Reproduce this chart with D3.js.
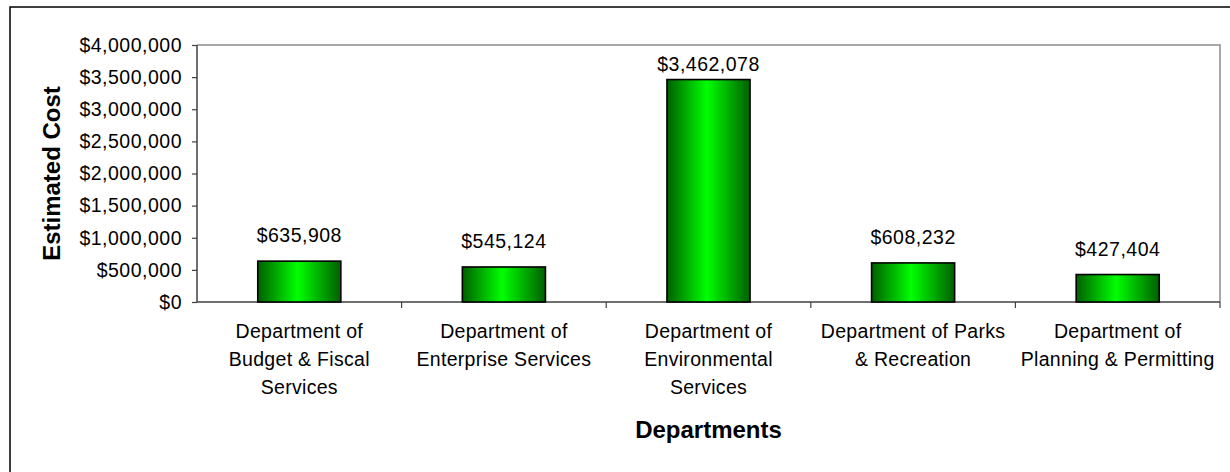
<!DOCTYPE html>
<html>
<head>
<meta charset="utf-8">
<script src="https://cdn.jsdelivr.net/npm/d3@7"></script>
<style>
  html, body { margin: 0; padding: 0; background: #fff; }
  svg { display: block; font-family: Arial, "Liberation Sans", sans-serif; }
</style>
</head>
<body>
<svg id="chart" width="1230" height="472"></svg>
<script>
// Estimated cost per department
const departments = [
  ["Department of", "Budget & Fiscal", "Services"],
  ["Department of", "Enterprise Services"],
  ["Department of", "Environmental", "Services"],
  ["Department of Parks", "& Recreation"],
  ["Department of", "Planning & Permitting"]
];
const costs = [635908, 545124, 3462078, 608232, 427404];
const yTicks = [0, 500000, 1000000, 1500000, 2000000, 2500000, 3000000, 3500000, 4000000];
const yTitle = "Estimated Cost";
const xTitle = "Departments";

const svg = d3.select("#chart");
const plot = { left: 197, right: 1220, top: 45, bottom: 302 };

const keys = departments.map((d, i) => i);
const x = d3.scaleBand()
  .domain(keys)
  .range([plot.left, plot.right])
  .paddingInner(0.594)
  .paddingOuter(0.297);
const y = d3.scaleLinear().domain([0, 4000000]).range([plot.bottom, plot.top]);
const money = v => "$" + d3.format(",")(v);

// outer chart frame
svg.append("rect")
  .attr("x", 10).attr("y", 7).attr("width", 1240).attr("height", 500)
  .attr("fill", "#fff").attr("stroke", "#000").attr("stroke-width", 1.5);

// plot area frame (top and right edges)
svg.append("path")
  .attr("d", `M${plot.left},${plot.top}H${plot.right}V${plot.bottom}`)
  .attr("fill", "none").attr("stroke", "#8c8c8c").attr("stroke-width", 1.5);

// bar gradient
const defs = svg.append("defs");
const grad = defs.append("linearGradient").attr("id", "barFill")
  .attr("x1", "0%").attr("x2", "100%").attr("y1", "0%").attr("y2", "0%");
grad.append("stop").attr("offset", "0%").attr("stop-color", "#005f00");
grad.append("stop").attr("offset", "48%").attr("stop-color", "#00ff00");
grad.append("stop").attr("offset", "100%").attr("stop-color", "#005f00");

// y axis
const yAxis = svg.append("g")
  .attr("transform", `translate(${plot.left},0)`)
  .call(d3.axisLeft(y).tickValues(yTicks).tickFormat(money).tickSize(5).tickPadding(10));
yAxis.attr("font-family", null).attr("font-size", null);
yAxis.select(".domain").attr("stroke", "#404040").attr("stroke-width", 1.5)
  .attr("d", `M0,${plot.top}V${plot.bottom}`);
yAxis.selectAll(".tick line").attr("stroke", "#404040").attr("stroke-width", 1.2);
yAxis.selectAll(".tick text")
  .attr("fill", "#000")
  .style("font-size", "19.5px")
  .style("letter-spacing", "0.5px");

// x axis: line plus tick marks at category boundaries
const step = x.step();
const bounds = keys.map(i => plot.left + step * (i + 1));
svg.append("line")
  .attr("x1", plot.left).attr("x2", plot.right)
  .attr("y1", plot.bottom).attr("y2", plot.bottom)
  .attr("stroke", "#404040").attr("stroke-width", 1.5);
svg.append("g").selectAll("line").data(bounds).join("line")
  .attr("x1", d => d).attr("x2", d => d)
  .attr("y1", plot.bottom).attr("y2", plot.bottom + 6)
  .attr("stroke", "#404040").attr("stroke-width", 1.2);

// bars
svg.append("g").selectAll("rect").data(costs).join("rect")
  .attr("x", (d, i) => x(i))
  .attr("y", d => y(d))
  .attr("width", x.bandwidth())
  .attr("height", d => y(0) - y(d))
  .attr("fill", "url(#barFill)")
  .attr("stroke", "#000").attr("stroke-width", 1.6);

// value labels, kept inside the plot area
svg.append("g").selectAll("text").data(costs).join("text")
  .attr("x", (d, i) => x(i) + x.bandwidth() / 2)
  .attr("y", d => Math.max(y(d) - 19, plot.top + 26))
  .attr("text-anchor", "middle")
  .style("font-size", "19.5px")
  .style("letter-spacing", "0.5px")
  .attr("fill", "#000")
  .text(d => money(d));

// category labels
const cat = svg.append("g").selectAll("text").data(departments).join("text")
  .attr("text-anchor", "middle")
  .style("font-size", "19.5px")
  .style("letter-spacing", "0.3px")
  .attr("fill", "#000");
cat.each(function (lines, i) {
  const t = d3.select(this);
  lines.forEach((ln, k) => {
    t.append("tspan")
      .attr("x", x(i) + x.bandwidth() / 2)
      .attr("y", 338 + k * 28)
      .text(ln);
  });
});

// axis titles
svg.append("text")
  .attr("transform", `translate(60,${(plot.top + plot.bottom) / 2}) rotate(-90)`)
  .attr("text-anchor", "middle")
  .style("font-size", "24px").style("font-weight", "bold")
  .text(yTitle);
svg.append("text")
  .attr("x", (plot.left + plot.right) / 2).attr("y", 438)
  .attr("text-anchor", "middle")
  .style("font-size", "24px").style("font-weight", "bold")
  .text(xTitle);
</script>
</body>
</html>
